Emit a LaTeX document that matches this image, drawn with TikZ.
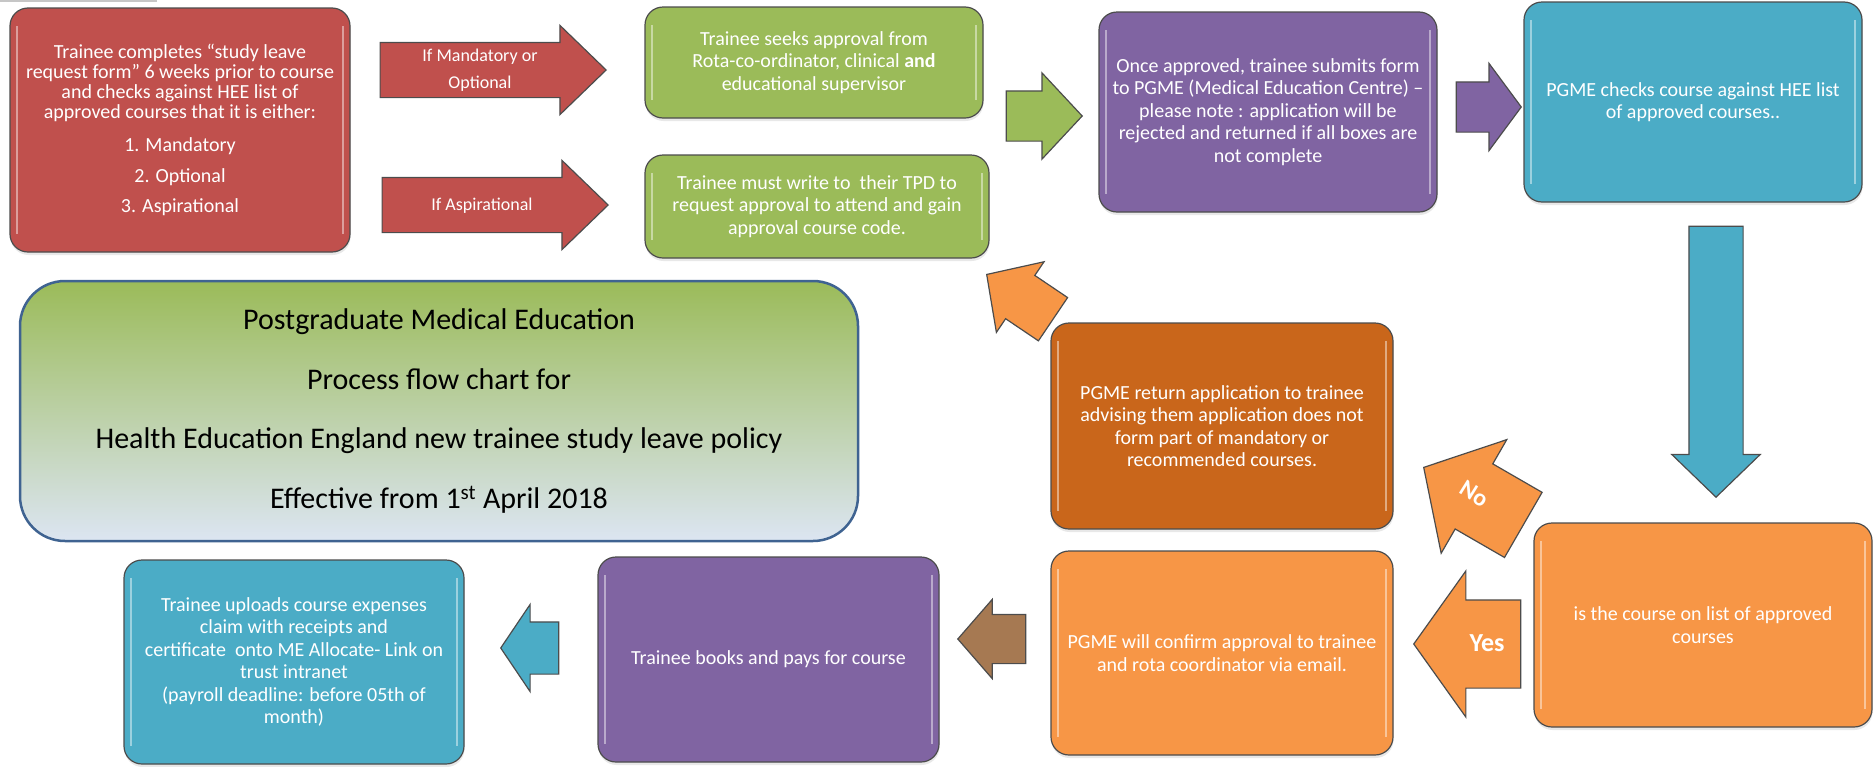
\documentclass[tikz,border=0pt]{standalone}
\usepackage{fontspec}
\setmainfont{Carlito}
\usetikzlibrary{shapes.arrows, shadows}

\definecolor{redbox}{HTML}{C0504D}
\definecolor{greenbox}{HTML}{9BBB59}
\definecolor{purplebox}{HTML}{8064A2}
\definecolor{tealbox}{HTML}{4BACC6}
\definecolor{orangebox}{HTML}{F79646}
\definecolor{rustbox}{HTML}{C9661B}
\definecolor{brownarrow}{HTML}{A67952}
\definecolor{titleedge}{HTML}{3F6391}
\definecolor{titletop}{HTML}{9BBB59}
\definecolor{titlemid}{HTML}{B8CCE8}
\definecolor{titlebottom}{HTML}{DCE5F2}

\newcommand{\stepfont}{\fontsize{20}{22.5}\selectfont}

\tikzstyle{bevel} = [path picture={
    \draw [white, opacity=0.45, line width=2pt]
      ([xshift=7pt,yshift=-18pt]path picture bounding box.north west) -- ([xshift=7pt,yshift=18pt]path picture bounding box.south west)
      ([xshift=-7pt,yshift=-18pt]path picture bounding box.north east) -- ([xshift=-7pt,yshift=18pt]path picture bounding box.south east);
  }]
\tikzstyle{stepbox} = [rectangle, rounded corners=18pt, draw=black!70, line width=1.2pt, align=center, text=white, font=\stepfont, bevel, drop shadow={opacity=0.18, shadow xshift=0.5pt, shadow yshift=-3pt}]
\tikzstyle{blockarrow} = [single arrow, draw=black!70, line width=1.2pt, inner xsep=0pt, anchor=tip]
\tikzstyle{arrowlabel} = [align=center, text=white, inner sep=0pt]

\begin{document}
\begin{tikzpicture}[x=1pt, y=-1pt]
    \useasboundingbox (0,0) rectangle (1876,766);
    \draw [gray!45, line width=2pt] (0,1) -- (157,1);

    % Main components
    \node (request) [stepbox, fill=redbox, minimum width=340pt, minimum height=244pt, font=\fontsize{20}{20}\selectfont] at (180,130) {Trainee completes “study leave\\request form” 6 weeks prior to course\\and checks against HEE list of\\approved courses that it is either:\\[13.5pt]1. Mandatory\\[10.5pt]2. Optional\\[10.5pt]3. Aspirational};

    \node (seek) [stepbox, fill=greenbox, minimum width=338pt, minimum height=111pt] at (814,62.5) {Trainee seeks approval from\\Rota-co-ordinator, clinical \textbf{and}\\educational supervisor};

    \node (tpd) [stepbox, fill=greenbox, minimum width=344pt, minimum height=103pt] at (817,206.5) {Trainee must write to~ their TPD to\\request approval to attend and gain\\approval course code.};

    \node (submit) [stepbox, fill=purplebox, minimum width=338pt, minimum height=200pt] at (1268,112) {Once approved, trainee submits form\\to PGME (Medical Education Centre) –\\please note : application will be\\rejected and returned if all boxes are\\not complete};

    \node (check) [stepbox, fill=tealbox, minimum width=338pt, minimum height=200pt] at (1693,102) {PGME checks course against HEE list\\of approved courses..};

    \node (onlist) [stepbox, fill=orangebox, minimum width=338pt, minimum height=204pt] at (1703,625) {is the course on list of approved\\courses};

    \node (return) [stepbox, fill=rustbox, minimum width=342pt, minimum height=206pt] at (1222,426) {PGME return application to trainee\\advising them application does not\\form part of mandatory or\\recommended courses.};

    \node (confirm) [stepbox, fill=orangebox, minimum width=342pt, minimum height=204pt] at (1222,653) {PGME will confirm approval to trainee\\and rota coordinator via email.};

    \node (books) [stepbox, fill=purplebox, minimum width=341pt, minimum height=205pt] at (768.5,659.5) {Trainee books and pays for course};

    \node (uploads) [stepbox, fill=tealbox, minimum width=340pt, minimum height=204pt] at (294,662) {Trainee uploads course expenses\\claim with receipts and\\certificate~ onto ME Allocate- Link on\\trust intranet\\(payroll deadline: before 05th of\\month)};

    % Title
    \node (title) [rectangle, rounded corners=45pt, draw=titleedge, line width=2.5pt, top color=titletop, middle color=titlemid, bottom color=titlebottom, minimum width=838pt, minimum height=260pt, align=center, font=\fontsize{30}{59.5}\selectfont] at (439,411) {Postgraduate Medical Education\\Process flow chart for\\Health Education England new trainee study leave policy\\Effective from 1\textsuperscript{st} April 2018};

    % Block arrows
    \node (mandatory) [blockarrow, fill=redbox, inner ysep=27pt, minimum height=226pt, minimum width=88pt, single arrow head extend=17pt, single arrow tip angle=88] at (607,70) {};
    \node (aspirational) [blockarrow, fill=redbox, inner ysep=27pt, minimum height=226pt, minimum width=88pt, single arrow head extend=17pt, single arrow tip angle=88] at (609,205) {};
    \node (tosubmit) [blockarrow, fill=greenbox, inner ysep=24.5pt, minimum height=76pt, minimum width=85pt, single arrow head extend=18pt, single arrow tip angle=94] at (1083,116) {};
    \node (tocheck) [blockarrow, fill=purplebox, inner ysep=24.5pt, minimum height=65pt, minimum width=86pt, single arrow head extend=18.5pt, single arrow tip angle=107] at (1522,107) {};
    \node (down) [blockarrow, fill=tealbox, rotate=-90, inner ysep=26.5pt, minimum height=271pt, minimum width=87pt, single arrow head extend=17pt, single arrow tip angle=92] at (1716,498) {};
    \node (no) [blockarrow, fill=orangebox, shape border rotate=180, rotate=-30, inner ysep=37pt, minimum height=115pt, minimum width=130pt, single arrow head extend=28pt, single arrow tip angle=97] at (1423,467) {};
    \node (back) [blockarrow, fill=orangebox, shape border rotate=180, rotate=-34, inner ysep=25.5pt, minimum height=80pt, minimum width=84pt, single arrow head extend=16.5pt, single arrow tip angle=93] at (986,274) {};
    \node (yes) [blockarrow, fill=orangebox, shape border rotate=180, inner ysep=43.5pt, minimum height=107pt, minimum width=145pt, single arrow head extend=29pt, single arrow tip angle=109] at (1413,644) {};
    \node (tobooks) [blockarrow, fill=brownarrow, shape border rotate=180, inner ysep=24pt, minimum height=68pt, minimum width=78pt, single arrow head extend=15pt, single arrow tip angle=98] at (957,639) {};
    \node (touploads) [blockarrow, fill=tealbox, shape border rotate=180, inner ysep=25.5pt, minimum height=58pt, minimum width=86pt, single arrow head extend=17.5pt, single arrow tip angle=112] at (500,648) {};

    % Arrow labels
    \node (mandatorytext) [arrowlabel, font=\fontsize{18}{27}\selectfont] at (480,70) {If Mandatory or\\Optional};
    \node (aspirationaltext) [arrowlabel, font=\fontsize{18}{27}\selectfont] at (482,206) {If Aspirational};
    \node (notext) [arrowlabel, rotate=-32, font=\bfseries\fontsize{24}{24}\selectfont] at (1474,494) {No};
    \node (yestext) [arrowlabel, font=\bfseries\fontsize{26}{26}\selectfont] at (1487,643) {Yes};
\end{tikzpicture}
\end{document}
